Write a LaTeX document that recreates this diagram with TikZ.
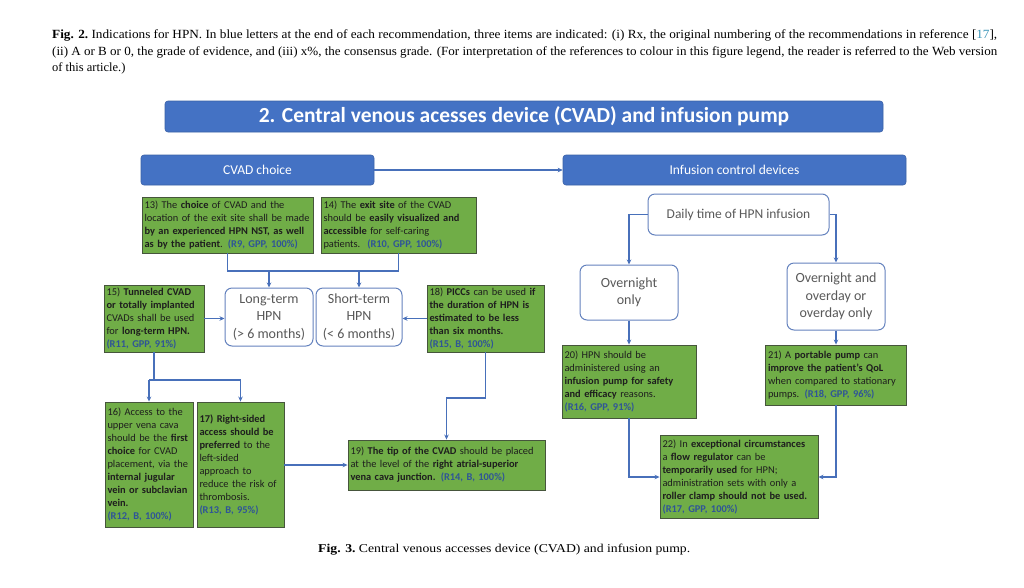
\documentclass[tikz,border=0pt]{standalone}
\usepackage{fontspec}
\usepackage{graphicx}
\usetikzlibrary{arrows.meta,calc}
\setmainfont{Liberation Serif}
\newfontfamily\calib{Carlito}
\definecolor{gfill}{RGB}{112,173,71}
\definecolor{gborder}{RGB}{70,85,60}
\definecolor{gtext}{RGB}{30,30,30}
\definecolor{refblue}{RGB}{47,85,151}
\definecolor{barblue}{RGB}{68,114,196}
\definecolor{lineblue}{RGB}{72,112,186}
\definecolor{rborder}{RGB}{100,130,190}
\definecolor{graytext}{RGB}{89,89,89}
\definecolor{citeteal}{RGB}{60,150,185}
\newcommand\rf[1]{\textcolor{refblue}{\textbf{#1}}}
\tikzset{
 gbox/.style={draw=gborder, fill=gfill, line width=0.9pt, inner xsep=2.5pt, inner ysep=2pt, align=left, text=gtext, font=\calib\fontsize{10.4}{13}\selectfont},
 rbox/.style={draw=rborder, fill=white, rounded corners=7pt, line width=1pt, align=center, text=graytext, font=\calib\fontsize{14}{17.5}\selectfont},
 bar/.style={fill=barblue, draw=barblue!85!black, line width=0.6pt, rounded corners=3pt, text=white},
 arr/.style={draw=lineblue, line width=1.5pt, -{Stealth[length=5pt,width=4.5pt]}},
 ln/.style={draw=lineblue, line width=1.5pt},
 hdr/.style={anchor=west, inner sep=0pt, font=\fontsize{12.5}{15}\selectfont},
}
\begin{document}
\begin{tikzpicture}[x=1pt,y=-1pt]
\useasboundingbox[fill=white] (0,0) rectangle (1024,587);
% header
\node[hdr] (h1) at (52,35) {\resizebox{945pt}{\height}{\textbf{Fig. 2.}\ Indications for HPN. In blue letters at the end of each recommendation, three items are indicated: (i) Rx, the original numbering of the recommendations in reference [\textcolor{citeteal}{17}],}};
\node[hdr] (h2) at (52,52) {\resizebox{945pt}{\height}{(ii) A or B or 0, the grade of evidence, and (iii) x\%, the consensus grade. (For interpretation of the references to colour in this figure legend, the reader is referred to the Web version}};
\node[hdr] (h3) at (52,68) {of this article.)};
% bars
\node[bar, minimum width=718pt, minimum height=31pt, font=\calib\bfseries\fontsize{21.5}{24}\selectfont] (title) at (524,116.5) {2. Central venous acesses device (CVAD) and infusion pump};
\node[bar, minimum width=233pt, minimum height=30pt, font=\calib\fontsize{13.5}{15}\selectfont] (cvad) at (257.5,170) {CVAD choice};
\node[bar, minimum width=343pt, minimum height=30pt, font=\calib\fontsize{13.5}{15}\selectfont] (icd) at (734.5,170) {Infusion control devices};
% left green boxes
\node[gbox, text width=166pt, minimum height=56pt] (b13) at (227.5,225) {13) The \textbf{choice} of CVAD and the\\location of the exit site shall be made\\\textbf{by an experienced HPN NST, as well}\\\textbf{as by the patient}. \rf{(R9, GPP, 100\%)}};
\node[gbox, text width=150pt, minimum height=56pt] (b14) at (398.5,225) {14) The \textbf{exit site} of the CVAD\\should be \textbf{easily visualized and}\\\textbf{accessible} for self-caring\\patients.\ \ \rf{(R10, GPP, 100\%)}};
\node[rbox, minimum width=88pt, minimum height=58pt] (long) at (269,317) {Long-term\\HPN\\(> 6 months)};
\node[rbox, minimum width=86pt, minimum height=58pt] (short) at (359,317) {Short-term\\HPN\\(< 6 months)};
\node[gbox, text width=95pt, minimum height=67pt] (b15) at (154,318.5) {15) \textbf{Tunneled CVAD}\\\textbf{or totally implanted}\\CVADs shall be used\\for \textbf{long-term HPN.}\\\rf{(R11, GPP, 91\%)}};
\node[gbox, text width=112pt, minimum height=67pt] (b18) at (485.5,318.5) {18) \textbf{PICCs} can be used \textbf{if}\\\textbf{the duration of HPN is}\\\textbf{estimated to be less}\\\textbf{than six months.}\\\rf{(R15, B, 100\%)}};
\node[gbox, text width=83pt, minimum height=125pt] (b16) at (149,464.5) {16) Access to the\\upper vena cava\\should be the \textbf{first}\\\textbf{choice} for CVAD\\placement, via the\\\textbf{internal jugular}\\\textbf{vein or subclavian}\\\textbf{vein.}\\\rf{(R12, B, 100\%)}};
\node[gbox, text width=82pt, minimum height=125pt] (b17) at (240.5,464.5) {\textbf{17) Right-sided}\\\textbf{access should be}\\\textbf{preferred} to the\\left-sided\\approach to\\reduce the risk of\\thrombosis.\\\rf{(R13, B, 95\%)}};
\node[gbox, text width=192pt, minimum height=50pt] (b19) at (446.5,465) {19) \textbf{The tip of the CVAD} should be placed\\at the level of the \textbf{right atrial-superior}\\\textbf{vena cava junction.} \rf{(R14, B, 100\%)}};
% right side
\node[rbox, minimum width=181pt, minimum height=41pt, font=\calib\fontsize{13.5}{16}\selectfont] (daily) at (738.5,214.5) {Daily time of HPN infusion};
\node[rbox, minimum width=98pt, minimum height=55pt] (on) at (629,292.5) {Overnight\\only};
\node[rbox, minimum width=98pt, minimum height=67pt] (onb) at (836,296.5) {Overnight and\\overday or\\overday only};
\node[gbox, text width=129pt, minimum height=73pt] (b20) at (629,381.5) {20) HPN should be\\administered using an\\\textbf{infusion pump for safety}\\\textbf{and efficacy} reasons.\\\rf{(R16, GPP, 91\%)}};
\node[gbox, text width=136pt, minimum height=60pt] (b21) at (836,375) {21) A \textbf{portable pump} can\\\textbf{improve the patient’s QoL}\\when compared to stationary\\pumps. \rf{(R18, GPP, 96\%)}};
\node[gbox, text width=153pt, minimum height=83pt] (b22) at (739,477) {22) In \textbf{exceptional circumstances}\\a \textbf{flow regulator} can be\\\textbf{temporarily used} for HPN;\\administration sets with only a\\\textbf{roller clamp should not be used.}\\\rf{(R17, GPP, 100\%)}};
% caption
\node[anchor=west, inner sep=0pt, font=\fontsize{12}{14}\selectfont] (cap) at (318,550) {\resizebox{372pt}{\height}{\textbf{Fig. 3.}\ Central venous accesses device (CVAD) and infusion pump.}};
% junction coordinates
\coordinate (j1) at (0,271);
\coordinate (j2) at (0,380);
\coordinate (j3) at (0,398);
% connectors
\draw[arr] (cvad.east) -- (icd.west);
\draw[ln] (b13.south) -- (b13.south |- j1) -- (b14.south |- j1) -- (b14.south);
\draw[arr] (long.north |- j1) -- (long.north);
\draw[arr] (short.north |- j1) -- (short.north);
\draw[arr] (b15.east) -- (b15.east -| long.west);
\draw[arr] (b18.west) -- (b18.west -| short.east);
\draw[ln] (b15.south) -- (b15.south |- j2);
\draw[ln] (b16.north |- j2) -- (b17.north |- j2);
\draw[arr] (b16.north |- j2) -- (b16.north);
\draw[arr] (b17.north |- j2) -- (b17.north);
\draw[arr] (b17.east |- b19.west) -- (b19.west);
\draw[arr] (b18.south) -- (b18.south |- j3) -- (b19.north |- j3) -- (b19.north);
\draw[arr] (daily.west) -| (on.north);
\draw[arr] (daily.east) -| (onb.north);
\draw[arr] (on.south) -- (b20.north);
\draw[arr] (onb.south) -- (b21.north);
\draw[arr] (b20.south) |- (b22.west);
\draw[arr] (b21.south) |- (b22.east);
\end{tikzpicture}
\end{document}
